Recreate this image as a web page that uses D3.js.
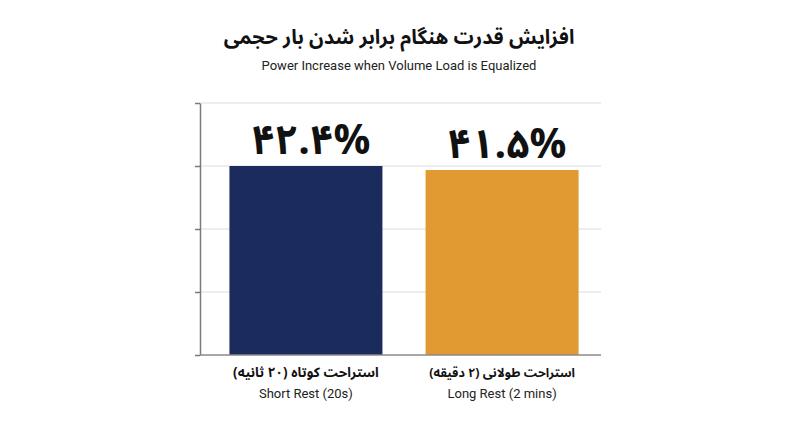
<!DOCTYPE html>
<html>
<head>
<meta charset="utf-8">
<script src="https://cdn.jsdelivr.net/npm/d3@7"></script>
<style>
  body { margin: 0; background: #fff; }
</style>
</head>
<body>
<div id="chart-container"></div>
<script>
const categoriesFa = ["استراحت کوتاه (۲۰ ثانیه)", "استراحت طولانی (۲ دقیقه)"];
const categoriesEn = ["Short Rest (20s)", "Long Rest (2 mins)"];
const values = [42.4, 41.5];
const barColors = ["#1c2b5e", "#e09a31"];

const titleFa = "افزایش قدرت هنگام برابر شدن بار حجمی";
const subtitleEn = "Power Increase when Volume Load is Equalized";

const W = 800, H = 447;
const plotLeft = 200, plotRight = 601, plotTop = 103, plotBottom = 355;

const faFont = "'Noto Sans Arabic', 'Vazirmatn', 'Noto Naskh Arabic', 'DejaVu Sans', sans-serif";
const enFont = "Roboto, 'Noto Sans', sans-serif";

// turn 42.4 into ۴۲.۴%
const faDigits = "۰۱۲۳۴۵۶۷۸۹";
const toFa = v => v.toFixed(1).replace(/\d/g, c => faDigits[+c]) + "%";

// shrink a text's font until it is no wider than maxW
function fitWidth(sel, maxW) {
    sel.each(function () {
        const t = d3.select(this);
        let fs = parseFloat(t.style("font-size"));
        while (this.getComputedTextLength() > maxW && fs > 6) {
            fs -= 0.5;
            t.style("font-size", fs + "px");
        }
    });
}

const svg = d3.select("#chart-container")
    .append("svg")
    .attr("width", W)
    .attr("height", H);

// top of chart sits at 4/3 of the biggest value, four grid steps
const yMax = d3.max(values) * 4 / 3;
const y = d3.scaleLinear()
    .domain([0, yMax])
    .range([plotBottom, plotTop]);
const yTicks = d3.range(0, 5).map(i => i * yMax / 4);

const x = d3.scaleBand()
    .domain(d3.range(values.length))
    .range([plotLeft, 608])
    .paddingInner(0.22)
    .paddingOuter(0.15);

// gridlines
svg.selectAll(".grid")
    .data(yTicks.slice(1))
    .join("line")
    .attr("x1", plotLeft)
    .attr("x2", plotRight)
    .attr("y1", d => y(d))
    .attr("y2", d => y(d))
    .attr("stroke", "#dcdcdc")
    .attr("stroke-width", 1);

// bars
svg.selectAll(".bar")
    .data(values)
    .join("rect")
    .attr("x", (d, i) => x(i))
    .attr("y", d => y(d))
    .attr("width", x.bandwidth())
    .attr("height", d => y(0) - y(d))
    .attr("fill", (d, i) => barColors[i]);

// left axis, ticks only
svg.append("g")
    .attr("transform", `translate(${plotLeft},0)`)
    .call(d3.axisLeft(y).tickValues(yTicks).tickSize(5).tickSizeOuter(0).tickFormat(""))
    .call(g => g.selectAll("path, line").attr("stroke", "#7a7a7a").attr("stroke-width", 1.5));

// baseline
svg.append("line")
    .attr("x1", plotLeft)
    .attr("x2", plotRight)
    .attr("y1", y(0))
    .attr("y2", y(0))
    .attr("stroke", "#8a8a8a")
    .attr("stroke-width", 1.5);

// value labels
svg.selectAll(".val")
    .data(values)
    .join("text")
    .attr("x", (d, i) => x(i) + x.bandwidth() / 2 + 5)
    .attr("y", d => y(d) - 12)
    .attr("text-anchor", "middle")
    .style("font-family", faFont)
    .style("font-size", "48px")
    .style("font-weight", "bold")
    .attr("fill", "#111")
    .text(d => toFa(d))
    .call(fitWidth, 120);

// category labels
svg.selectAll(".catFa")
    .data(categoriesFa)
    .join("text")
    .attr("x", (d, i) => x(i) + x.bandwidth() / 2)
    .attr("y", 377)
    .attr("text-anchor", "middle")
    .attr("direction", "rtl")
    .style("font-family", faFont)
    .style("font-size", "17px")
    .style("font-weight", "bold")
    .attr("fill", "#111")
    .text(d => d)
    .call(fitWidth, 150);

svg.selectAll(".catEn")
    .data(categoriesEn)
    .join("text")
    .attr("x", (d, i) => x(i) + x.bandwidth() / 2)
    .attr("y", 398)
    .attr("text-anchor", "middle")
    .style("font-family", enFont)
    .style("font-size", "13px")
    .attr("fill", "#222")
    .text(d => d);

// title
svg.append("text")
    .attr("x", 399)
    .attr("y", 44)
    .attr("text-anchor", "middle")
    .attr("direction", "rtl")
    .style("font-family", faFont)
    .style("font-size", "25px")
    .style("font-weight", "bold")
    .attr("fill", "#111")
    .text(titleFa)
    .call(fitWidth, 352);

svg.append("text")
    .attr("x", 399)
    .attr("y", 70)
    .attr("text-anchor", "middle")
    .style("font-family", enFont)
    .style("font-size", "13px")
    .attr("fill", "#222")
    .text(subtitleEn);
</script>
</body>
</html>
